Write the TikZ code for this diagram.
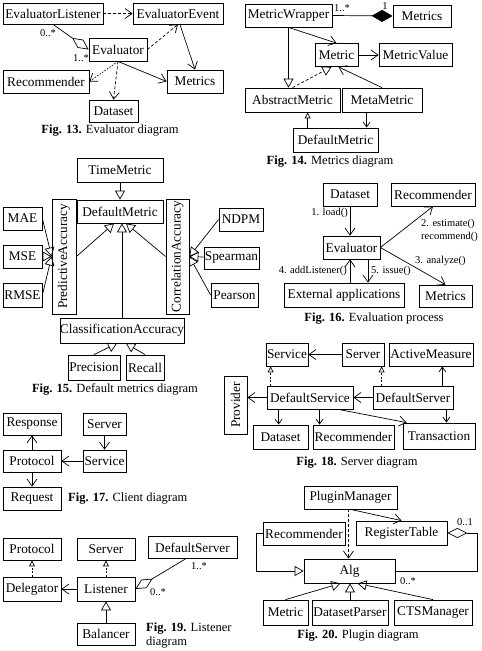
\documentclass[tikz,border=0pt]{standalone}
\usepackage{fontspec}
\setmainfont{Liberation Serif}
\usetikzlibrary{arrows.meta, positioning}

\begin{document}
\begin{tikzpicture}[
  x=1pt, y=-1pt,
  box/.style={rectangle, draw=black, line width=0.8pt, inner sep=0pt, minimum height=23pt, font=\fontsize{13.3}{15}\selectfont},
  vbox/.style={box, rotate=90},
  lbl/.style={inner sep=0pt, font=\fontsize{10.5}{13}\selectfont},
  caption/.style={inner sep=0pt, font=\fontsize{12.5}{14}\selectfont},
  assoc/.style={-{Straight Barb[length=7pt,width=10pt]}, line width=0.7pt},
  assocsmall/.style={-{Straight Barb[length=5pt,width=7pt]}, line width=0.7pt},
  dep/.style={assoc, dash pattern=on 3pt off 2pt},
  dotdep/.style={assoc, dash pattern=on 1.5pt off 1.5pt},
  gen/.style={-{Triangle[open,length=9pt,width=10pt]}, line width=0.7pt},
  gensmall/.style={-{Triangle[open,length=6pt,width=6pt]}, line width=0.7pt},
  real/.style={gen, dash pattern=on 3pt off 2pt},
  realsmall/.style={gensmall, dash pattern=on 2pt off 1.5pt},
  aggr/.style={{Diamond[open,length=20pt,width=10pt]}-, line width=0.7pt},
  comp/.style={{Diamond[length=21pt,width=12pt]}-, line width=0.7pt}
]
\useasboundingbox (0,0) rectangle (482,651);

% Fig. 13
\node[box, minimum width=100pt, minimum height=21pt] (evlist) at (53,13.5) {EvaluatorListener};
\node[box, minimum width=90pt, minimum height=21pt] (evevent) at (178,13.5) {EvaluatorEvent};
\node[box, minimum width=58pt] (evaluator) at (118,49.5) {Evaluator};
\node[box, minimum width=86pt] (evrec) at (46,81.5) {Recommender};
\node[box, minimum width=56pt] (evmetrics) at (195,81.5) {Metrics};
\node[box, minimum width=49pt, minimum height=22pt] (evdata) at (113.5,111) {Dataset};
\node[lbl] (m13a) at (48,33) {0..*};
\node[lbl] (m13b) at (81,58) {1..*};
\node[caption] (cap13) at (110,131) {\textbf{Fig. 13.} Evaluator diagram};

\draw[dep] (evlist) -- (evevent);
\draw[aggr] (evaluator.west) -- (evlist.south);
\draw[dep] (evaluator.east) -- (evevent.south);
\draw[assoc] (evevent.-80) -- (evmetrics.north);
\draw[dotdep] (evaluator.south) -- (evrec.east);
\draw[dep] (evaluator.south) -- (evdata.north);
\draw[assoc] (evaluator.south) -- (evmetrics.west);

% Fig. 14
\node[box, minimum width=87pt] (mwrap) at (288.5,15.5) {MetricWrapper};
\node[box, minimum width=58pt, minimum height=22pt] (mmetrics) at (422,16) {Metrics};
\node[box, minimum width=43pt] (metric) at (336.5,55) {Metric};
\node[box, minimum width=73pt] (mvalue) at (415.5,55) {MetricValue};
\node[box, minimum width=95pt, minimum height=24pt] (absmetric) at (292.5,100) {AbstractMetric};
\node[box, minimum width=80pt, minimum height=24pt] (metametric) at (382,100) {MetaMetric};
\node[box, minimum width=85pt, minimum height=24pt] (defmetric) at (335.5,140) {DefaultMetric};
\node[lbl, anchor=west] (m14a) at (334,8) {1..*};
\node[lbl] (m14b) at (385,6) {1};
\node[caption] (cap14) at (330,162) {\textbf{Fig. 14.} Metrics diagram};

\draw[comp] (mmetrics.west) -- (mwrap.east);
\draw[assoc] (mwrap.south) -- (metric.north);
\draw[assoc] (metric) -- (mvalue);
\draw[gen] (mwrap.south) -- (mwrap.south |- absmetric.north);
\draw[real] (absmetric.north) -- ([xshift=-5pt]metric.south);
\draw[assoc] (metametric.north) -- ([xshift=2pt]metric.south);
\draw[gensmall] ([xshift=15pt]defmetric.north west) coordinate (p14) -- (p14 |- absmetric.south);
\draw[assocsmall] ([xshift=25pt]metametric.south west) coordinate (q14) -- (q14 |- defmetric.north);

% Fig. 15
\node[box, minimum width=86pt, minimum height=24pt] (timemetric) at (120,170) {TimeMetric};
\node[box, minimum width=86pt] (defmetric2) at (120,211.5) {DefaultMetric};
\node[vbox, minimum width=115pt, minimum height=24pt] (predacc) at (64,256.5) {PredictiveAccuracy};
\node[vbox, minimum width=115pt, minimum height=23pt] (corracc) at (177.5,256.5) {CorrelationAccuracy};
\node[box, minimum width=39pt] (mae) at (22.5,218.5) {MAE};
\node[box, minimum width=39pt] (mse) at (22.5,256.5) {MSE};
\node[box, minimum width=39pt, minimum height=24pt] (rmse) at (22.5,295) {RMSE};
\node[box, minimum width=44pt] (ndpm) at (241,219.5) {NDPM};
\node[box, minimum width=55pt, minimum height=22pt] (spearman) at (231.5,258) {Spearman};
\node[box, minimum width=47pt, minimum height=24pt] (pearson) at (234.5,295) {Pearson};
\node[box, minimum width=124pt, minimum height=25pt] (classacc) at (122,330.5) {ClassificationAccuracy};
\node[box, minimum width=52pt, minimum height=25pt] (precision) at (94,367.5) {Precision};
\node[box, minimum width=38pt, minimum height=25pt] (recall) at (145,367.5) {Recall};
\node[caption] (cap15) at (115,389) {\textbf{Fig. 15.} Default metrics diagram};

% rotated boxes: north is the left side, south the right side
\draw[gen] (timemetric) -- (defmetric2);
\draw[gen] (mae.east) -- (predacc.north);
\draw[gen] (mse) -- (predacc.north);
\draw[gen] (rmse.east) -- (predacc.north);
\draw[gen] (ndpm.west) -- (corracc.south);
\draw[gen] (spearman) -- (corracc.south);
\draw[gen] (pearson.west) -- (corracc.south);
\draw[gen] (predacc.south) -- ([xshift=-6pt]defmetric2.south);
\draw[gen] (corracc.north) -- ([xshift=6pt]defmetric2.south);
\draw[gen] (classacc.north) -- (classacc.north |- defmetric2.south);
\draw[gen] (precision.north) -- ([xshift=-5pt]classacc.south);
\draw[gen] (recall.north) -- ([xshift=4pt]classacc.south);

% Fig. 16
\node[box, minimum width=54pt] (ds16) at (350,194.5) {Dataset};
\node[box, minimum width=84pt] (rec16) at (433,194.5) {Recommender};
\node[box, minimum width=57pt] (ev16) at (351.5,247.5) {Evaluator};
\node[box, minimum width=120pt, minimum height=24pt] (ext16) at (344,295) {External applications};
\node[box, minimum width=53pt, minimum height=22pt] (met16) at (445.5,296) {Metrics};
\node[lbl, anchor=east] (l161) at (348,213) {1. load()};
\node[lbl, anchor=west, align=left] (l162) at (421,230) {2. estimate()\\recommend()};
\node[lbl, anchor=west] (l163) at (415,261) {3. analyze()};
\node[lbl, anchor=east] (l164) at (347,271) {4. addListener()};
\node[lbl, anchor=west] (l165) at (371,271) {5. issue()};
\node[caption] (cap16) at (374,319) {\textbf{Fig. 16.} Evaluation process};

\draw[assoc] (ds16.south) -- (ds16.south |- ev16.north);
\draw[assoc] (ev16.east) -- (rec16.south);
\draw[assoc] (ev16.east) -- (met16.north);
\draw[assoc] ([xshift=6pt]ext16.north) coordinate (a16) -- (a16 |- ev16.south);
\draw[assoc] ([xshift=16.5pt]ev16.south) coordinate (b16) -- (b16 |- ext16.north);

% Fig. 17
\node[box, minimum width=58pt, minimum height=22pt] (resp) at (32,424) {Response};
\node[box, minimum width=43pt, minimum height=22pt] (srv17) at (104.5,424) {Server};
\node[box, minimum width=58pt, minimum height=22pt] (prot17) at (32,461) {Protocol};
\node[box, minimum width=43pt, minimum height=22pt] (svc17) at (104.5,461) {Service};
\node[box, minimum width=58pt] (req17) at (32,498.5) {Request};
\node[caption, anchor=west] (cap17) at (68,499) {\textbf{Fig. 17.} Client diagram};

\draw[assoc] (prot17) -- (resp);
\draw[assoc] (prot17) -- (req17);
\draw[assoc] (srv17) -- (svc17);
\draw[assoc] (svc17) -- (prot17);

% Fig. 18
\node[box, minimum width=42pt] (svc18) at (287,354.5) {Service};
\node[box, minimum width=42pt] (srv18) at (363,354.5) {Server};
\node[box, minimum width=84pt] (actm) at (431,354.5) {ActiveMeasure};
\node[box, minimum width=86pt] (defsvc) at (310,397.5) {DefaultService};
\node[box, minimum width=80pt] (defsrv) at (413,397.5) {DefaultServer};
\node[box, minimum width=55pt, minimum height=24pt] (ds18) at (280.5,437) {Dataset};
\node[box, minimum width=81pt, minimum height=24pt] (rec18) at (353.5,437) {Recommender};
\node[box, minimum width=72pt, minimum height=26pt] (trans) at (439,436) {Transaction};
\node[vbox, minimum width=58pt] (provider) at (235.5,405) {Provider};
\node[caption] (cap18) at (357,463) {\textbf{Fig. 18.} Server diagram};

\draw[assoc] (srv18) -- (svc18);
\draw[realsmall] ([xshift=4pt]defsvc.north west) coordinate (a18) -- (a18 |- svc18.south);
\draw[realsmall] ([xshift=9pt]defsrv.north west) coordinate (b18) -- (b18 |- srv18.south);
\draw[assocsmall] ([xshift=-11pt]defsrv.north east) coordinate (c18) -- (c18 |- actm.south);
\draw[assoc] (defsrv) -- (defsvc);
\draw[assoc] (defsvc.west) -- (defsvc.west -| provider.south);
\draw[assocsmall] ([xshift=12pt]defsvc.south west) coordinate (d18) -- (d18 |- ds18.north);
\draw[assocsmall] ([xshift=53pt]defsvc.south west) coordinate (e18) -- (e18 |- rec18.north);
\draw[assoc] ([xshift=-15pt]defsvc.south east) -- ([xshift=4pt]trans.north west);
\draw[assocsmall] ([xshift=-7pt]defsrv.south east) coordinate (f18) -- (f18 |- trans.north);

% Fig. 19
\node[box, minimum width=58pt, minimum height=22pt] (prot19) at (32,549) {Protocol};
\node[box, minimum width=58pt, minimum height=22pt] (srv19) at (106,549) {Server};
\node[box, minimum width=89pt, minimum height=22pt] (defsrv19) at (192.5,547.5) {DefaultServer};
\node[box, minimum width=58pt, minimum height=24pt] (deleg) at (32,589) {Delegator};
\node[box, minimum width=58pt, minimum height=24pt] (listener) at (106,589) {Listener};
\node[box, minimum width=58pt, minimum height=22pt] (balancer) at (106,634) {Balancer};
\node[lbl] (m19a) at (199,566) {1..*};
\node[lbl] (m19b) at (158,592) {0..*};
\node[caption, anchor=west, align=left] (cap19) at (146,636) {\textbf{Fig. 19.} Listener\\diagram};

\draw[realsmall] (deleg) -- (prot19);
\draw[realsmall] (listener) -- (srv19);
\draw[assoc] (listener) -- (deleg);
\draw[gen] (balancer) -- (listener);
\draw[aggr] (listener.east) -- ([xshift=-7pt]defsrv19.south);

% Fig. 20
\node[box, minimum width=93pt] (pm) at (350.5,497.5) {PluginManager};
\node[box, minimum width=82pt] (rec20) at (304,533.5) {Recommender};
\node[box, minimum width=91pt, minimum height=24pt] (regt) at (401.5,533) {RegisterTable};
\node[box, minimum width=91pt, minimum height=24pt] (alg) at (349.5,571) {Alg};
\node[box, minimum width=45pt, minimum height=25pt] (met20) at (285.5,612.5) {Metric};
\node[box, minimum width=76pt, minimum height=25pt] (dsp) at (350,612.5) {DatasetParser};
\node[box, minimum width=78pt, minimum height=25pt] (cts) at (433,612.5) {CTSManager};
\node[lbl] (m20a) at (465,522) {0..1};
\node[lbl] (m20b) at (408,581) {0..*};
\node[caption] (cap20) at (358,636) {\textbf{Fig. 20.} Plugin diagram};

\draw[dep] ([xshift=-2pt]pm.south) coordinate (a20) -- (a20 |- alg.north);
\draw[assoc] (pm.south) -- (regt.north);
\draw[gen] (rec20.west) -- ++(-6,0) |- (alg.west);
\draw[aggr] (regt.east) -- ++(30,0) |- (alg.east);
\draw[gen] (met20.north) -- ([xshift=-9pt]alg.south);
\draw[gen] (dsp.north) -- (dsp.north |- alg.south);
\draw[gen] (cts.north) -- ([xshift=8pt]alg.south);

\end{tikzpicture}
\end{document}
